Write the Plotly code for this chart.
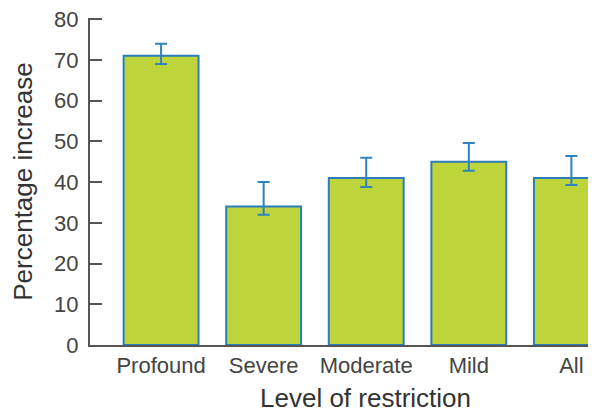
import plotly.graph_objects as go

categories = ["Profound", "Severe", "Moderate", "Mild", "All"]
values = [71, 34, 41, 45, 41]
err_plus = [3, 6, 5, 4.6, 5.4]
err_minus = [2, 2, 2.2, 2.2, 1.7]
y_ticks = [0, 10, 20, 30, 40, 50, 60, 70, 80]

font_family = "Liberation Sans, Arial, Helvetica, sans-serif"

fig = go.Figure()
fig.add_trace(go.Bar(
    x=list(range(len(categories))),
    y=values,
    width=0.73,
    marker=dict(color="#BDD53B", line=dict(color="#2A7DBA", width=2)),
    error_y=dict(type="data", symmetric=False, array=err_plus, arrayminus=err_minus,
                 color="#2E84C0", thickness=2, width=6),
))

fig.add_annotation(
    text="Level of restriction", xref="paper", yref="paper",
    x=0.545, y=-0.162, xanchor="center", yanchor="middle",
    showarrow=False, font=dict(size=26, color="#333333", family=font_family),
)

# page body has an 8px offset; compensate so the plot area lands where the reference has it
fig.update_layout(
    width=588, height=406,
    margin=dict(l=82, r=0, t=10, b=69),
    paper_bgcolor="white", plot_bgcolor="white",
    showlegend=False,
    font=dict(family=font_family, color="#444444"),
    xaxis=dict(
        tickmode="array",
        tickvals=list(range(len(categories))),
        ticktext=categories,
        range=[-0.693, 4.24],
        showline=True, linecolor="#555555", linewidth=2,
        ticks="", showgrid=False, zeroline=False,
        tickfont=dict(size=22, color="#444444"),
    ),
    yaxis=dict(
        range=[0, 80.3],
        tickvals=y_ticks,
        showline=True, linecolor="#555555", linewidth=2,
        ticks="inside", ticklen=12, tickwidth=2, tickcolor="#555555",
        ticklabelstandoff=5, ticklabeloverflow="allow",
        showgrid=False, zeroline=False,
        tickfont=dict(size=22, color="#444444"),
        title=dict(text="Percentage increase", font=dict(size=26, color="#333333"), standoff=14),
    ),
)

fig.write_html("out.html")
